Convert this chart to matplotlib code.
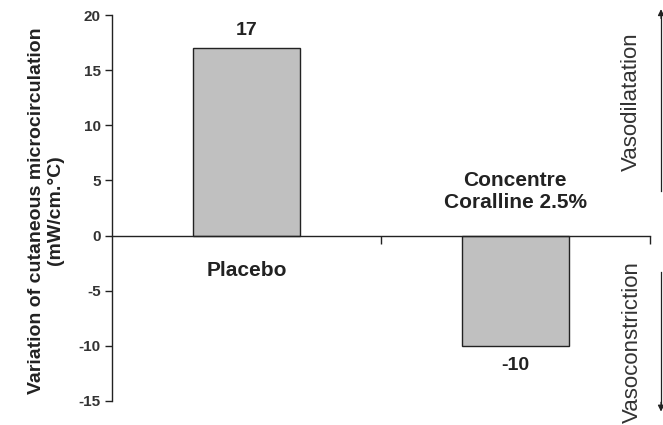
import numpy as np
import matplotlib.pyplot as plt

plt.rcParams['font.family'] = ['Liberation Sans', 'DejaVu Sans']
plt.rcParams['font.weight'] = 'bold'

# data
groups = ["Placebo", "Concentre\nCoralline 2.5%"]
values = [17, -10]
yticks = [-15, -10, -5, 0, 5, 10, 15, 20]

fig = plt.figure(figsize=(6.63, 4.25), dpi=100)
ax = fig.add_axes([0.169, 0.0565, 0.811, 0.908])

x = np.arange(len(groups)) + 0.5
ax.bar(x, values, width=0.4, color="#c0c0c0", edgecolor="#222222", linewidth=1.0)

ax.set_xlim(0, 2)
ax.set_ylim(-15, 20)
ax.set_yticks(yticks)
ax.set_yticklabels([str(v) for v in yticks], fontsize=11, fontweight='bold', color="#333333")
ax.tick_params(axis='y', direction='out', length=5, width=1.0, color="#222222", pad=3)

# x axis at zero, ticks at category boundaries
ax.spines['top'].set_visible(False)
ax.spines['right'].set_visible(False)
ax.spines['bottom'].set_position(('data', 0))
ax.spines['left'].set_color("#222222")
ax.spines['bottom'].set_color("#222222")
ax.spines['left'].set_linewidth(1.0)
ax.spines['bottom'].set_linewidth(1.0)
ax.set_xticks([1, 2])
ax.set_xticklabels(["", ""])
ax.tick_params(axis='x', direction='out', length=6, width=1.0, color="#222222")

# value labels
for xi, v in zip(x, values):
    off = 1.6 if v > 0 else -1.8
    ax.text(xi, v + off, str(v), ha='center', va='center',
            fontsize=14, fontweight='bold', color="#222222")

# category labels
ax.text(x[0], -3.2, groups[0], ha='center', va='center', fontsize=15, fontweight='bold', color="#222222")
ax.text(x[1], 4.0, groups[1], ha='center', va='center', fontsize=15, fontweight='bold',
        color="#222222", linespacing=1.25)

fig.text(0.07, 0.505, "Variation of cutaneous microcirculation\n(mW/cm.°C)", rotation=90,
         ha='center', va='center', fontsize=14, fontweight='bold', color="#222222",
         linespacing=1.15, multialignment='center')

# side arrows
fig.add_artist(plt.Line2D([0.997, 0.997], [0.55, 0.97], transform=fig.transFigure, color="#222222", lw=0.9))
fig.add_artist(plt.Line2D([0.997, 0.997], [0.04, 0.36], transform=fig.transFigure, color="#222222", lw=0.9))
ax.annotate("", xy=(0.997, 0.985), xytext=(0.997, 0.95), xycoords='figure fraction',
            arrowprops=dict(arrowstyle='-|>', color="#222222", lw=0.9, mutation_scale=9))
ax.annotate("", xy=(0.997, 0.025), xytext=(0.997, 0.06), xycoords='figure fraction',
            arrowprops=dict(arrowstyle='-|>', color="#222222", lw=0.9, mutation_scale=9))
fig.text(0.952, 0.76, "Vasodilatation", rotation=90, ha='center', va='center',
         fontsize=16, fontweight='normal', color="#333333")
fig.text(0.954, 0.195, "Vasoconstriction", rotation=90, ha='center', va='center',
         fontsize=16, fontweight='normal', color="#333333")

fig.savefig("out.png", dpi=100)
